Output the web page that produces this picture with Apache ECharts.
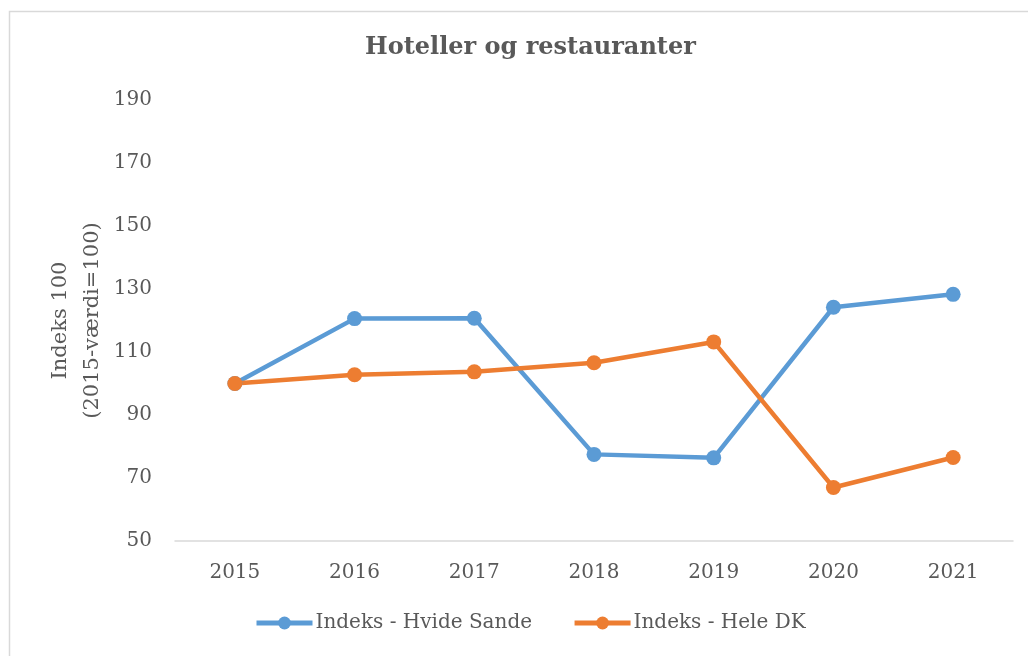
<!DOCTYPE html>
<html>
<head>
<meta charset="utf-8">
<script src="https://cdn.jsdelivr.net/npm/echarts@6/dist/echarts.min.js"></script>
<style>
  html, body { margin: 0; padding: 0; background: #fff; }
  #chart { width: 1028px; height: 656px; }
</style>
</head>
<body>
<div id="chart"></div>
<script>
var years = ['2015', '2016', '2017', '2018', '2019', '2020', '2021'];
var hvideSande = [100, 120.6, 120.7, 77.5, 76.4, 124.2, 128.3];
var heleDK = [100, 102.8, 103.7, 106.6, 113.2, 67.0, 76.5];

var font = 'DejaVu Serif';
var textColor = '#595959';

var myChart = echarts.init(document.getElementById('chart'));
var option = {
    backgroundColor: '#fff',
    animation: false,
    graphic: [{
        type: 'rect',
        shape: { x: 9.5, y: 11.5, width: 1040, height: 700 },
        style: { fill: 'none', stroke: '#d9d9d9', lineWidth: 1.5 }
    }],
    title: {
        text: 'Hoteller og restauranter',
        left: 360,
        top: 31,
        textStyle: { fontFamily: font, fontSize: 24, fontWeight: 'bold', color: textColor }
    },
    legend: {
        bottom: 18,
        left: 249,
        itemWidth: 56,
        itemHeight: 16,
        itemGap: 40,
        lineStyle: { width: 5 },
        textStyle: { fontFamily: font, fontSize: 20, color: textColor, padding: [0, 0, 0, -2] },
        data: ['Indeks - Hvide Sande', 'Indeks - Hele DK']
    },
    grid: { left: 175, right: 15, top: 100, bottom: 115 },
    xAxis: {
        type: 'category',
        data: years,
        axisLine: { lineStyle: { color: '#d9d9d9', width: 1.5 } },
        axisTick: { show: false },
        axisLabel: { fontFamily: font, fontSize: 20, color: textColor, margin: 22 }
    },
    yAxis: {
        type: 'value',
        min: 50,
        max: 190,
        interval: 20,
        name: 'Indeks 100\n(2015-værdi=100)',
        nameLocation: 'middle',
        nameGap: 66,
        nameMoveOverlap: false,
        nameTextStyle: { fontFamily: font, fontSize: 21, color: textColor, lineHeight: 32 },
        axisLine: { show: false },
        axisTick: { show: false },
        splitLine: { show: false },
        axisLabel: { fontFamily: font, fontSize: 20, color: textColor, margin: 23 }
    },
    series: [{
        name: 'Indeks - Hvide Sande',
        type: 'line',
        data: hvideSande,
        symbol: 'circle',
        symbolSize: 15,
        lineStyle: { width: 4.5, color: '#5b9bd5' },
        itemStyle: { color: '#5b9bd5' }
    }, {
        name: 'Indeks - Hele DK',
        type: 'line',
        data: heleDK,
        symbol: 'circle',
        symbolSize: 15,
        lineStyle: { width: 4.5, color: '#ed7d31' },
        itemStyle: { color: '#ed7d31' }
    }]
};
myChart.setOption(option);
</script>
</body>
</html>
